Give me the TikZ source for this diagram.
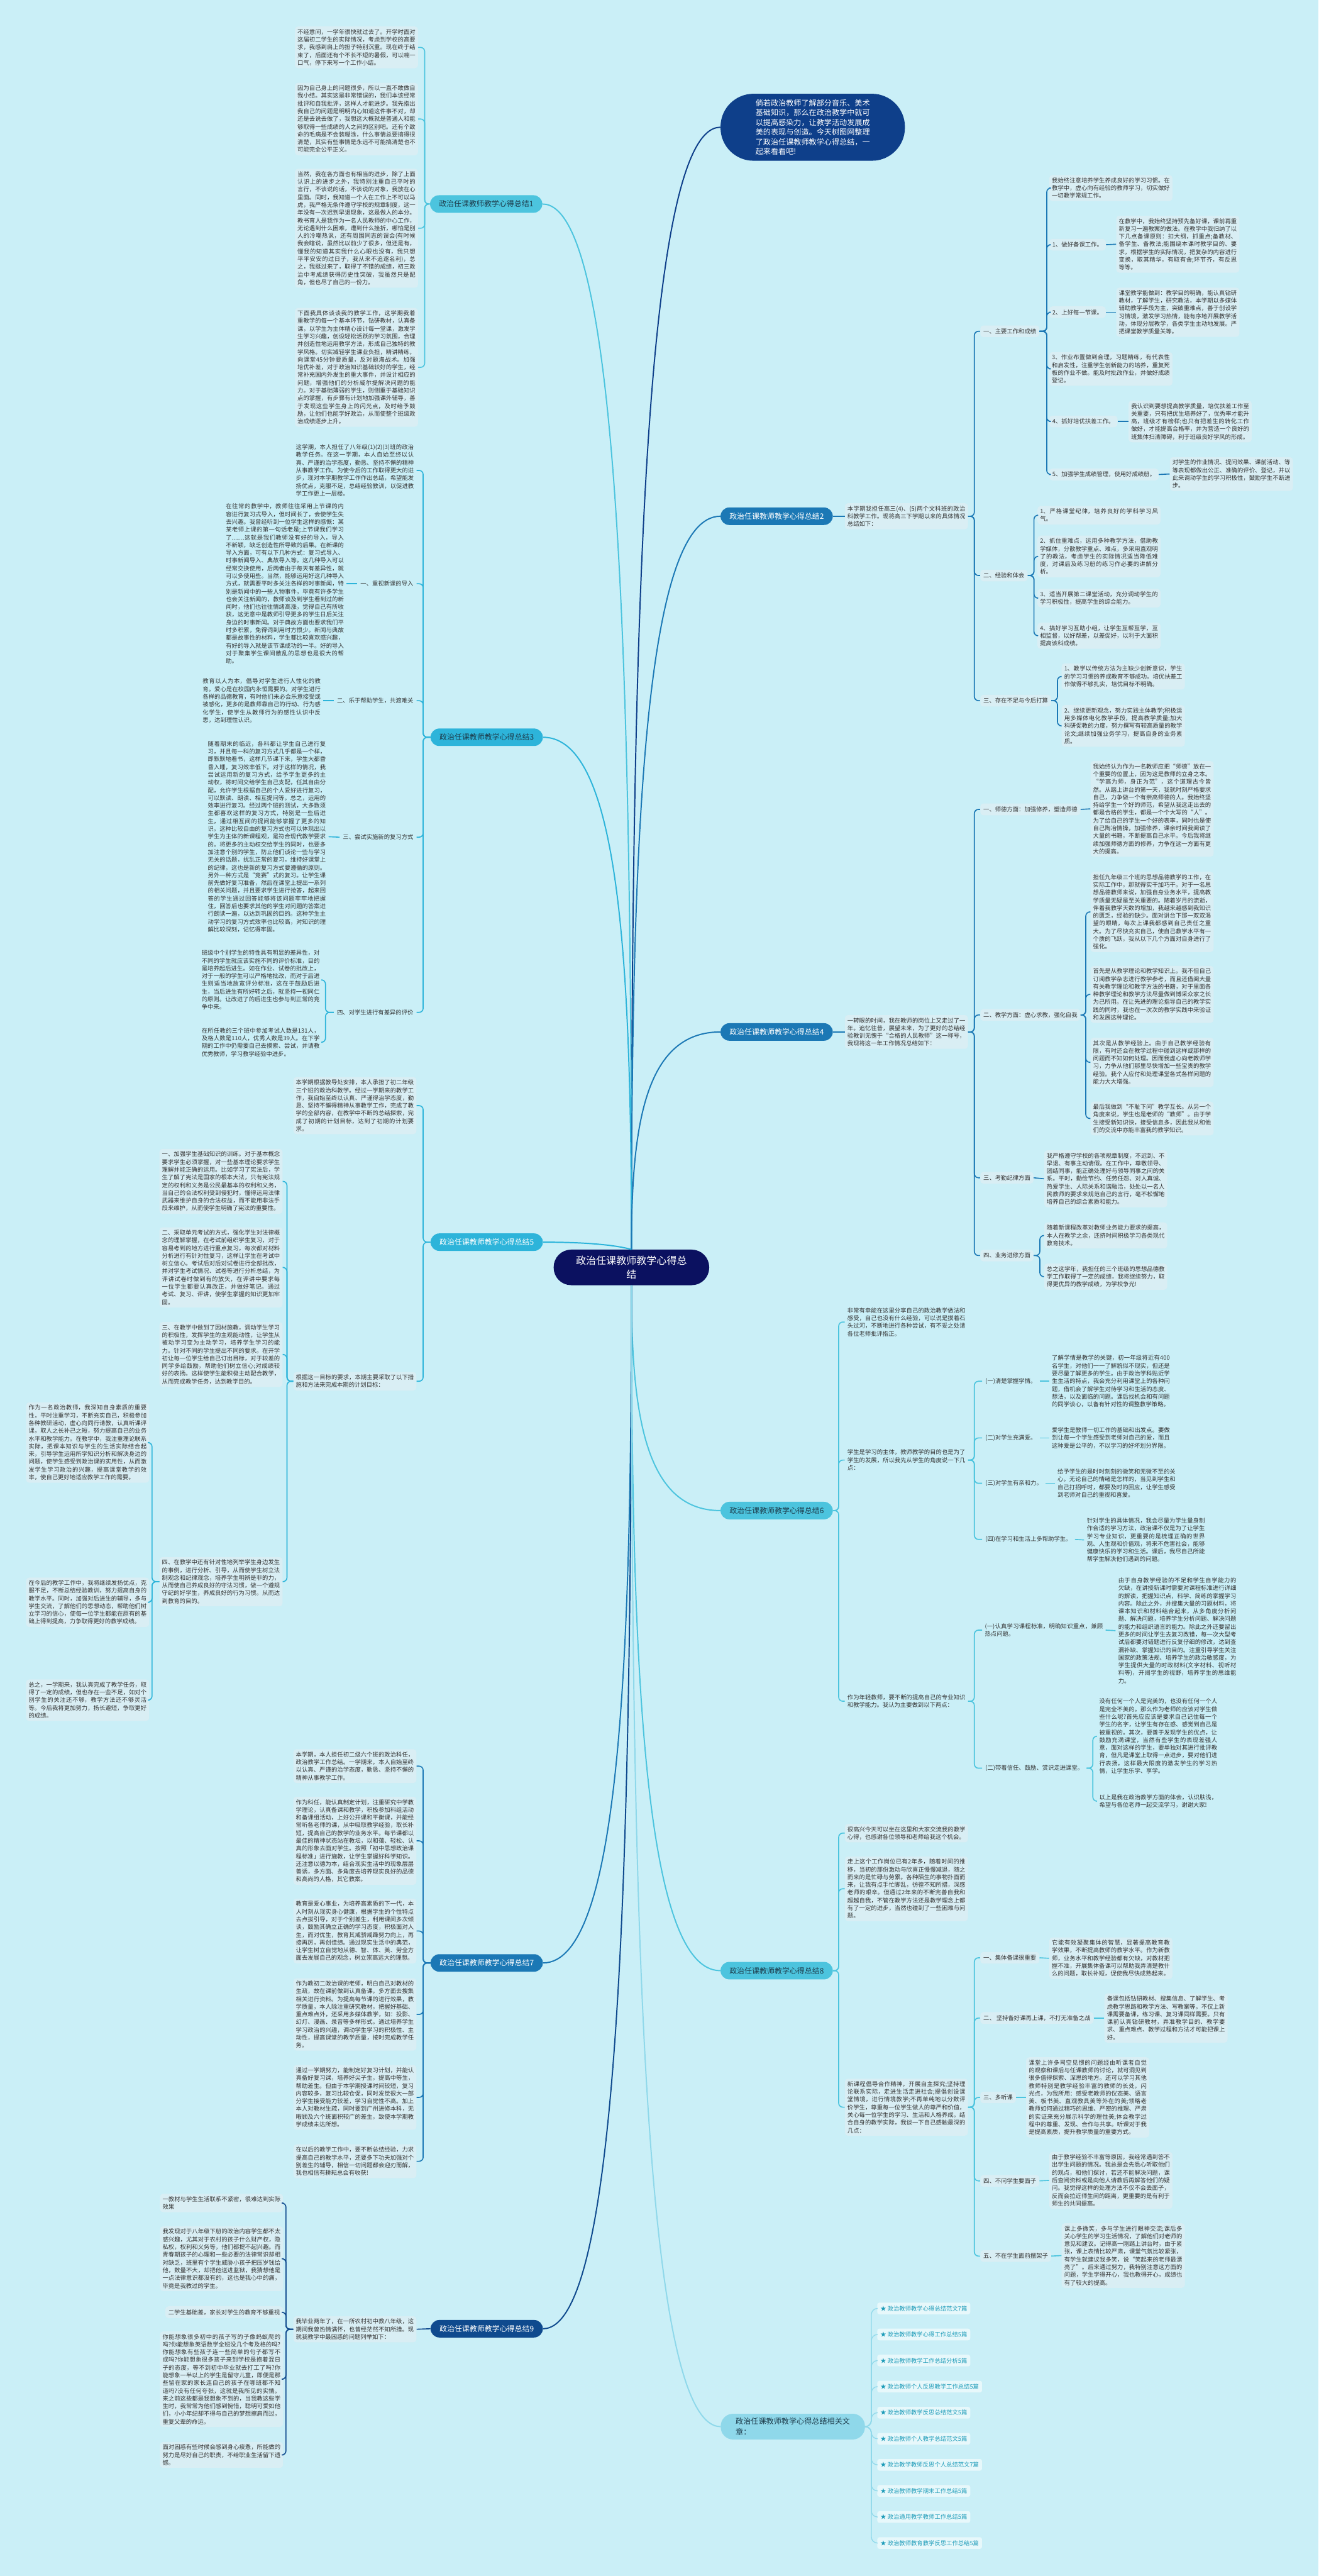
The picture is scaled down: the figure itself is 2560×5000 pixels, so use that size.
\documentclass[tikz,border=0pt]{standalone}
\usepackage{fontspec}
\setmainfont{Noto Sans CJK SC}
\XeTeXlinebreaklocale "zh"
\XeTeXlinebreakskip = 0pt plus 1pt

\definecolor{bg}{HTML}{CAEFF7}
\definecolor{leaf}{HTML}{D9EEF4}
\definecolor{ink}{HTML}{333333}
\definecolor{dk}{HTML}{1D3C4C}
\definecolor{navy}{HTML}{0B1160}
\definecolor{deep}{HTML}{0E3F8A}
\definecolor{bluA}{HTML}{1B78B5}
\definecolor{cyA}{HTML}{4CC4DE}
\definecolor{cyB}{HTML}{2DB4DA}
\definecolor{dkb}{HTML}{0F4A8E}
\definecolor{pale}{HTML}{8FD8EA}
\definecolor{teal}{HTML}{1E9CB9}

\begin{document}
\begin{tikzpicture}[x=0.5pt, y=-0.5pt,
  every node/.style={text=ink},
  leaf/.style={fill=leaf, rounded corners=3pt, text width=114.5pt, align=justify,
    inner xsep=2.5pt, inner ysep=2.5pt, font=\fontsize{5.7}{7.5}\selectfont},
  bare/.style={leaf, fill=none},
  lab/.style={fill=leaf, rounded corners=3pt, inner xsep=3pt, inner ysep=3pt,
    font=\fontsize{5.7}{7.5}\selectfont},
  barelab/.style={lab, fill=none},
  br/.style={rounded corners=8.5pt, minimum width=109pt, minimum height=17pt,
    inner sep=0pt, font=\fontsize{7.3}{9}\selectfont},
  relitem/.style={fill=white!55!bg, rounded corners=2pt, inner xsep=3pt, inner ysep=3pt,
    text=teal, font=\fontsize{5.7}{7.5}\selectfont},
  main/.style={line width=1.2pt},
  sub/.style={line width=1pt, rounded corners=4pt}]

\useasboundingbox (0,0) rectangle (2560,5000);
\fill[bg] (0,0) rectangle (2560,5000);

% centre and lead-in
\node[fill=navy, text=white, rounded corners=17pt, minimum width=151pt, minimum height=34.5pt,
  align=center, font=\fontsize{9.8}{13.5}\selectfont] (root) at (1226,2460)
  {政治任课教师教学心得总\\结};
\node[fill=deep, text=white, rounded corners=32pt, text width=111pt, align=left,
  inner xsep=34pt, inner ysep=4pt, minimum height=65pt, font=\fontsize{7.4}{9.5}\selectfont] (lead) at (1578,247)
  {倘若政治教师了解部分音乐、美术基础知识，那么在政治教学中就可以提高感染力，让教学活动发展成美的表现与创造。今天树图网整理了政治任课教师教学心得总结，一起来看看吧!};

% ---------------- branch 1
\node[br, fill=cyA, text=dk] (b1) at (944,396) {政治任课教师教学心得总结1};
\node[leaf, anchor=east] (b1a) at (812,92) {不经意间，一学年很快就过去了。开学时面对这届初二学生的实际情况，考虑到学校的高要求，我感到肩上的担子特别沉重。现在终于结束了，后面还有个不长不短的暑假，可以喘一口气，停下来写一个工作小结。};
\node[leaf, anchor=east] (b1b) at (812,231) {因为自己身上的问题很多，所以一直不敢做自我小结。其实这是非常错误的，我们本该经常批评和自我批评，这样人才能进步。我先指出我自己的问题是明明内心知道这件事不对，却还是去说去做了，我想这大概就是普通人和能够取得一些成绩的人之间的区别吧。还有个致命的毛病是不会装糊涂，什么事情总要搞得很清楚，其实有些事情是永远不可能搞清楚也不可能完全公平正义。};
\node[leaf, anchor=east] (b1c) at (812,443) {当然，我在各方面也有相当的进步，除了上面认识上的进步之外，我特别注重自己平时的言行，不该说的话，不该说的对象，我放在心里面。同时，我知道一个人在工作上不可以马虎，我严格无条件遵守学校的规章制度，这一年没有一次迟到早退现象，这是做人的本分。教书育人是我作为一名人民教师的中心工作，无论遇到什么困难，遭到什么挫折，哪怕是别人的冷嘲热讽，还有周围同志的误会(有时候我会瞎说，虽然比以前少了很多，但还是有，懂我的知道其实我什么心眼也没有，我只想平平安安的过日子，我从来不追逐名利)，总之，我挺过来了，取得了不错的成绩，初三政治中考成绩获得历史性突破，我虽然只是配角，但也尽了自己的一份力。};
\node[leaf, anchor=east] (b1d) at (812,713) {下面我具体谈谈我的教学工作，这学期我着重教学的每一个基本环节，钻研教材，认真备课，以学生为主体精心设计每一堂课，激发学生学习兴趣，创设轻松活跃的学习氛围，合理并创造性地运用教学方法，形成自己独特的教学风格。切实减轻学生课业负担，精讲精练，向课堂45分钟要质量，反对题海战术。加强培优补差，对于政治知识基础较好的学生，经常补充国内外发生的重大事件，并设计相应的问题，增强他们的分析威尔提解决问题的能力。对于基础薄弱的学生，则侧重于基础知识点的掌握，有步骤有计划地加强课外辅导，善于发现这些学生身上的闪光点，及时给予鼓励，让他们也能学好政治，从而使整个班级政治成绩逐步上升。};
\foreach \c in {b1a,b1b,b1c,b1d}
  \draw[sub, cyA] (b1.west) -- ++(-10,0) |- (\c.east);

% ---------------- branch 2
\node[br, fill=bluA, text=white] (b2) at (1508,1002) {政治任课教师教学心得总结2};
\node[leaf, anchor=west] (b2a) at (1640,1002) {本学期我担任高三(4)、(5)两个文科班的政治科教学工作。现将高三下学期以来的具体情况总结如下：};
\node[lab, anchor=west] (b2m1) at (1903,643) {一、主要工作和成绩};
\node[lab, anchor=west] (b2m2) at (1903,1117) {二、经验和体会};
\node[lab, anchor=west] (b2m3) at (1903,1360) {三、存在不足与今后打算};
\draw[sub, bluA] (b2.east) -- (b2a.west);
\foreach \c in {b2m1,b2m2,b2m3}
  \draw[sub, bluA] (b2a.east) -- ++(12,0) |- (\c.west);

\node[leaf, anchor=west] (b2m1a) at (2037,365) {我始终注意培养学生养成良好的学习习惯。在教学中，虚心向有经验的教师学习，切实做好一切教学常规工作。};
\node[lab, anchor=west] (b2m1b) at (2037,475) {1、做好备课工作。};
\node[lab, anchor=west] (b2m1c) at (2037,606) {2、上好每一节课。};
\node[leaf, anchor=west] (b2m1d) at (2037,716) {3、作业布置做到合理，习题精练，有代表性和启发性，注重学生创新能力的培养，重复死板的作业不做。能及时批改作业，并做好成绩登记。};
\node[lab, anchor=west] (b2m1e) at (2037,818) {4、抓好培优扶差工作。};
\node[lab, anchor=west] (b2m1f) at (2037,921) {5、加强学生成绩管理，使用好成绩册。};
\foreach \c in {b2m1a,b2m1b,b2m1c,b2m1d,b2m1e,b2m1f}
  \draw[sub, bluA] (b2m1.east) -- ++(14,0) |- (\c.west);
\node[leaf, anchor=west] (b2m1b1) at (2167,474) {在教学中，我始终坚持预先备好课，课前再重新复习一遍教案的做法。在教学中我归纳了以下几点备课原则：扣大纲，抓重点;备教材、备学生、备教法;能围绕本课时教学目的、要求，根据学生的实际情况，把复杂的内容进行变换，取其精华，有取有舍;环节齐，有反思等等。};
\node[leaf, anchor=west] (b2m1c1) at (2167,606) {课堂教学能做到：教学目的明确，能认真钻研教材，了解学生，研究教法，本学期以多媒体辅助教学手段为主，突破重难点，善于创设学习情境，激发学习热情，能有序地开展教学活动，体现分层教学，各类学生主动地发展。严把课堂教学质量关等。};
\node[leaf, anchor=west] (b2m1e1) at (2191,818) {我认识到要想提高教学质量，培优扶差工作至关重要，只有把优生培养好了，优秀率才能升高，班级才有榜样;也只有把差生的转化工作做好，才能提高合格率，并为营造一个良好的班集体扫清障碍，利于班级良好学风的形成。};
\node[leaf, anchor=west] (b2m1f1) at (2271,920) {对学生的作业情况、提问效果、课前活动、等等表现都做出公正、准确的评价、登记，并以此来调动学生的学习积极性，鼓励学生不断进步。};
\draw[sub, bluA] (b2m1b.east) -- (b2m1b1.west);
\draw[sub, bluA] (b2m1c.east) -- (b2m1c1.west);
\draw[sub, bluA] (b2m1e.east) -- (b2m1e1.west);
\draw[sub, bluA] (b2m1f.east) -- (b2m1f1.west);

\node[leaf, anchor=west] (b2m2a) at (2014,1000) {1、严格课堂纪律，培养良好的学科学习风气。};
\node[leaf, anchor=west] (b2m2b) at (2014,1080) {2、抓住重难点，运用多种教学方法，借助教学媒体，分散教学重点、难点，多采用直观明了的教法，考虑学生的实际情况适当降低难度，对课后及练习册的练习作必要的讲解分析。};
\node[leaf, anchor=west] (b2m2c) at (2014,1161) {3、适当开展第二课堂活动，充分调动学生的学习积极性，提高学生的综合能力。};
\node[leaf, anchor=west] (b2m2d) at (2014,1234) {4、搞好学习互助小组，让学生互帮互学，互相监督，以好帮差，以差促好，以利于大面积提高该科成绩。};
\foreach \c in {b2m2a,b2m2b,b2m2c,b2m2d}
  \draw[sub, bluA] (b2m2.east) -- ++(12,0) |- (\c.west);
\node[leaf, anchor=west] (b2m3a) at (2061,1313) {1、教学以传统方法为主缺少创新意识，学生的学习习惯的养成教育不够成功。培优扶差工作做得不够扎实，培优目标不明确。};
\node[leaf, anchor=west] (b2m3b) at (2061,1409) {2、继续更新观念，努力实践主体教学;积极运用多媒体电化教学手段，提高教学质量;加大科研促教的力度，努力撰写有较高质量的教学论文;继续加强业务学习，提高自身的业务素质。};
\foreach \c in {b2m3a,b2m3b}
  \draw[sub, bluA] (b2m3.east) -- ++(12,0) |- (\c.west);

% ---------------- branch 3
\node[br, fill=cyB, text=dk] (b3) at (945,1431) {政治任课教师教学心得总结3};
\node[bare, anchor=east] (b3a) at (809,913) {这学期，本人担任了八年级(1)(2)(3)班的政治教学任务。在这一学期，本人自始至终以认真、严谨的治学态度，勤恳、坚持不懈的精神从事教学工作。为使今后的工作取得更大的进步，现对本学期教学工作作出总结，希望能发扬优点，克服不足，总结经验教训，以促进教学工作更上一层楼。};
\node[barelab, anchor=east] (b3b) at (809,1133) {一、重视新课的导入};
\node[barelab, anchor=east] (b3c) at (809,1360) {二、乐于帮助学生，共渡难关};
\node[barelab, anchor=east] (b3d) at (809,1625) {三、尝试实施新的复习方式};
\node[barelab, anchor=east] (b3e) at (809,1965) {四、对学生进行有差异的评价};
\foreach \c in {b3a,b3b,b3c,b3d,b3e}
  \draw[sub, cyB] (b3.west) -- ++(-14,0) |- (\c.east);
\node[bare, anchor=east] (b3b1) at (673,1133) {在往常的教学中，教师往往采用上节课的内容进行复习式导入，但时间长了，会使学生失去兴趣。我曾经听到一位学生这样的感慨：某某老师上课的第一句话老是;上节课我们学习了……这就是我们教师没有好的导入，导入不新颖，缺乏创造性所导致的后果。在新课的导入方面，可有以下几种方式：复习式导入、时事新闻导入、典故导入等。这几种导入可以经常交换使用，后两者由于每天有差异性，就可以多使用些。当然，能够运用好这几种导入方式，就需要平时多关注各样的时事新闻，特别是新闻中的一些人物事件，毕竟有许多学生也会关注新闻的，教师谈及到学生看到过的新闻时，他们也往往情绪高涨，觉得自己有所收获，这无意中是教师引导更多的学生日后关注身边的时事新闻。对于典故方面也要求我们平时多积累，免得词到用时方恨少。新闻与典故都是故事性的材料，学生都比较喜欢感兴趣，有好的导入就是该节课成功的一半。好的导入对于聚集学生课间散乱的思想也是很大的帮助。};
\node[bare, anchor=east] (b3c1) at (628,1360) {教育以人为本，倡导对学生进行人性化的教育。爱心是在校园内永恒需要的。对学生进行各样的品德教育，有时他们未必会乐意接受或被感化，更多的是教师靠自己的行动、行为感化学生，使学生从教师行为的感性认识中反思，达到理性认识。};
\node[bare, anchor=east] (b3d1) at (638,1624) {随着期末的临近，各科都让学生自己进行复习，并且每一科的复习方式几乎都是一个样，即默默地看书，这样几节课下来，学生大都昏昏入睡，复习效率低下。对于这样的情况，我尝试运用新的复习方式，给予学生更多的主动权，将时间交给学生自己支配，任其自由分配，允许学生根据自己的个人爱好进行复习，可以默读、朗读、相互提问等。总之，运用的效率进行复习。经过两个班的测试，大多数须生都喜欢这样的复习方式，特别是一些后进生，通过相互间的提问能够掌握了更多的知识。这种比较自由的复习方式也可以体现出以学生为主体的新课程观，是符合现代教学要求的。将更多的主动权交给学生的同时，也要多加注意个别的学生，防止他们谈论一些与学习无关的话题，扰乱正常的复习，维持好课堂上的纪律，这也是新的复习方式要遵循的原则。另外一种方式是“竞赛”式的复习。让学生课前先做好复习准备，然后在课堂上提出一系列的相关问题，并且要求学生进行抢答，起来回答的学生通过回答能够将该问题牢牢地把握住，回答后也要求其他的学生对问题的答案进行朗读一遍，以达到巩固的目的。这种学生主动学习的复习方式效率也比较高，对知识的理解比较深刻，记忆得牢固。};
\draw[sub, cyB] (b3b.west) -- (b3b1.east);
\draw[sub, cyB] (b3c.west) -- (b3c1.east);
\draw[sub, cyB] (b3d.west) -- (b3d1.east);
\node[bare, anchor=east] (b3e1) at (626,1902) {班级中个别学生的特性具有明显的差异性，对不同的学生就应该实施不同的评价标准，目的是培养起后进生。如在作业、试卷的批改上，对于一般的学生可以严格地批改，而对于后进生则适当地放宽评分标准，这在于鼓励后进生，当后进生有所好转之后，就坚持一视同仁的原则。让改进了的后进生也参与到正常的竞争中来。};
\node[bare, anchor=east] (b3e2) at (626,2023) {在所任教的三个班中参加考试人数是131人，及格人数是110人，优秀人数是39人。在下学期的工作中仍需要自己去摸索、尝试，并请教优秀教师，学习教学经验中进步。};
\foreach \c in {b3e1,b3e2}
  \draw[sub, cyB] (b3e.west) -- ++(-16,0) |- (\c.east);

% ---------------- branch 4
\node[br, fill=bluA, text=white] (b4) at (1508,2003) {政治任课教师教学心得总结4};
\node[leaf, anchor=west] (b4a) at (1640,2003) {一转眼的时间，我在教师的岗位上又走过了一年。追忆往昔，展望未来，为了更好的总结经验教训无愧于“合格的人民教师”这一称号，我现将这一年工作情况总结如下：};
\draw[sub, bluA] (b4.east) -- (b4a.west);
\node[lab, anchor=west] (b4m1) at (1903,1571) {一、师德方面：加强修养，塑造师德};
\node[lab, anchor=west] (b4m2) at (1903,1970) {二、教学方面：虚心求教，强化自我};
\node[lab, anchor=west] (b4m3) at (1903,2286) {三、考勤纪律方面};
\node[lab, anchor=west] (b4m4) at (1903,2437) {四、业务进修方面};
\foreach \c in {b4m1,b4m2,b4m3,b4m4}
  \draw[sub, bluA] (b4a.east) -- ++(12,0) |- (\c.west);
\node[leaf, anchor=west] (b4m1a) at (2117,1570) {我始终认为作为一名教师应把“师德”放在一个重要的位置上，因为这是教师的立身之本。“学高为师，身正为范”，这个道理古今皆然。从踏上讲台的第一天，我就时刻严格要求自己，力争做一个有崇高师德的人。我始终坚持给学生一个好的师范，希望从我这走出去的都是合格的学生，都是一个个大写的“人”。为了给自己的学生一个好的表率，同时也是使自己陶冶情操，加强修养，课余时间我阅读了大量的书籍，不断提高自己水平。今后我将继续加强师德方面的修养，力争在这一方面有更大的提高。};
\draw[sub, bluA] (b4m1.east) -- (b4m1a.west);
\node[leaf, anchor=west] (b4m2a) at (2117,1770) {担任九年级三个班的思想品德教学的工作，在实际工作中，那就得实干加巧干。对于一名思想品德教师来说，加强自身业务水平，提高教学质量无疑是至关重要的。随着岁月的流逝，伴着我教学天数的增加，我越来越感到我知识的匮乏，经验的缺少。面对讲台下那一双双渴望的眼睛，每次上课我都感到自己责任之重大。为了尽快充实自己，使自己教学水平有一个质的飞跃，我从以下几个方面对自身进行了强化。};
\node[leaf, anchor=west] (b4m2b) at (2117,1930) {首先是从教学理论和教学知识上。我不但自己订阅教学杂志进行教学参考，而且还借阅大量有关教学理论和教学方法的书籍，对于里面各种教学理论和教学方法尽量做到博采众家之长为己所用。在让先进的理论指导自己的教学实践的同时，我也在一次次的教学实践中来验证和发展这种理论。};
\node[leaf, anchor=west] (b4m2c) at (2117,2062) {其次是从教学经验上。由于自己教学经验有限，有时还会在教学过程中碰到这样或那样的问题而不知如何处理。因而我虚心向老教师学习，力争从他们那里尽快增加一些宝贵的教学经验。我个人应付和处理课堂各式各样问题的能力大大增强。};
\node[leaf, anchor=west] (b4m2d) at (2117,2171) {最后我做到“不耻下问”教学互长。从另一个角度来说，学生也是老师的“教师”。由于学生接受新知识快，接受信息多，因此我从和他们的交流中亦能丰富我的教学知识。};
\foreach \c in {b4m2a,b4m2b,b4m2c,b4m2d}
  \draw[sub, bluA] (b4m2.east) -- ++(10,0) |- (\c.west);
\node[leaf, anchor=west] (b4m3a) at (2027,2288) {我严格遵守学校的各项规章制度，不迟到、不早退、有事主动请假。在工作中，尊敬领导、团结同事，能正确处理好与领导同事之间的关系。平时，勤俭节约、任劳任怨、对人真诚、热爱学生、人际关系和谐融洽，处处以一名人民教师的要求来规范自己的言行，毫不松懈地培养自己的综合素质和能力。};
\draw[sub, bluA] (b4m3.east) -- (b4m3a.west);
\node[leaf, anchor=west] (b4m4a) at (2027,2398) {随着新课程改革对教师业务能力要求的提高，本人在教学之余，还挤时间积极学习各类现代教育技术。};
\node[leaf, anchor=west] (b4m4b) at (2027,2478) {总之这学年，我担任的三个班级的思想品德教学工作取得了一定的成绩，我将继续努力，取得更优异的教学成绩，为学校争光!};
\foreach \c in {b4m4a,b4m4b}
  \draw[sub, bluA] (b4m4.east) -- ++(12,0) |- (\c.west);

% ---------------- branch 5
\node[br, fill=cyB, text=white] (b5) at (945,2411) {政治任课教师教学心得总结5};
\node[leaf, anchor=east] (b5a) at (809,2146) {本学期根据教导处安排，本人承担了初二年级三个班的政治科教学。经过一学期来的教学工作，我自始至终以认真、严谨得治学态度，勤恳、坚持不懈得精神从事教学工作，完成了教学的全部内容，在教学中不断的总结探索，完成了初期的计划目标，达到了初期的计划要求。};
\node[leaf, anchor=east] (b5b) at (809,2681) {根据这一目标的要求，本期主要采取了以下措施和方法来完成本期的计划目标：};
\foreach \c in {b5a,b5b}
  \draw[sub, cyB] (b5.west) -- ++(-14,0) |- (\c.east);
\node[leaf, anchor=east] (b5b1) at (549,2293) {一、加强学生基础知识的训练。对于基本概念要求学生必须掌握，对一些基本理论要求学生理解并能正确的运用。比如学习了宪法后，学生了解了宪法是国家的根本大法，只有宪法规定的权利和义务是公民最基本的权利和义务，当自己的合法权利受到侵犯时，懂得运用法律武器来维护自身的合法权益，而不能用非法手段来维护，从而使学生明确了宪法的重要性。};
\node[leaf, anchor=east] (b5b2) at (549,2460) {二、采取单元考试的方式，强化学生对法律概念的理解掌握，在考试前组织学生复习，对于容易考到的地方进行重点复习，每次都对材料分析进行有针对性复习，这样让学生在考试中树立信心。考试后对后对试卷进行全部批改，并对学生考试情况、试卷等进行分析总结，为评讲试卷时做到有的放矢，在评讲中要求每一位学生都要认真改正，并做好笔记。通过考试、复习、评讲，使学生掌握的知识更加牢固。};
\node[leaf, anchor=east] (b5b3) at (549,2629) {三、在教学中做到了因材施教，调动学生学习的积极性，发挥学生的主观能动性，让学生从被动学习变为主动学习，培养学生学习的能力。针对不同的学生提出不同的要求。在开学初让每一位学生给自己订出目标，对于较差的同学多给鼓励，帮助他们树立信心;对成绩较好的表扬。这样使学生能积极主动配合教学，从而完成教学任务，达到教学目的。};
\node[leaf, anchor=east] (b5b4) at (549,3070) {四、在教学中还有针对性地列举学生身边发生的事例，进行分析、引导，从而使学生树立法制观念和纪律观念，培养学生明辨是非的力，从而使自己养成良好的守法习惯，做一个遵规守纪的好学生，养成良好的行为习惯。从而达到教育的目的。};
\foreach \c in {b5b1,b5b2,b5b3,b5b4}
  \draw[sub, cyB] (b5b.west) -- ++(-12,0) |- (\c.east);
\node[leaf, anchor=east] (b5c1) at (290,2800) {作为一名政治教师，我深知自身素质的重要性，平时注重学习，不断充实自己，积极参加各种教研活动，虚心向同行请教，认真听课评课，取人之长补己之短，努力提高自己的业务水平和教学能力。在教学中，我注重理论联系实际，把课本知识与学生的生活实际结合起来，引导学生运用所学知识分析和解决身边的问题，使学生感受到政治课的实用性，从而激发学生学习政治的兴趣，提高课堂教学的效率，使自己更好地适应教学工作的需要。};
\node[leaf, anchor=east] (b5c2) at (290,3110) {在今后的教学工作中，我将继续发扬优点，克服不足，不断总结经验教训，努力提高自身的教学水平。同时，加强对后进生的辅导，多与学生交流，了解他们的思想动态，帮助他们树立学习的信心，使每一位学生都能在原有的基础上得到提高，力争取得更好的教学成绩。};
\node[leaf, anchor=east] (b5c3) at (290,3300) {总之，一学期来，我认真完成了教学任务，取得了一定的成绩，但也存在一些不足，如对个别学生的关注还不够，教学方法还不够灵活等。今后我将更加努力，扬长避短，争取更好的成绩。};
\foreach \c in {b5c1,b5c2,b5c3}
  \draw[sub, cyB] (b5b4.west) -- ++(-14,0) |- (\c.east);

% ---------------- branch 6
\node[br, fill=cyA, text=dk] (b6) at (1508,2932) {政治任课教师教学心得总结6};
\node[bare, anchor=west] (b6a) at (1640,2566) {非常有幸能在这里分享自己的政治教学做法和感受，自己也没有什么经验，可以说是摸着石头过河，不断地进行各种尝试，有不妥之处请各位老师批评指正。};
\node[bare, anchor=west] (b6b) at (1640,2834) {学生是学习的主体，教师教学的目的也是为了学生的发展，所以我先从学生的角度说一下几点：};
\node[bare, anchor=west] (b6c) at (1640,3302) {作为年轻教师，要不断的提高自己的专业知识和教学能力。我认为主要做到以下两点：};
\foreach \c in {b6a,b6b,b6c}
  \draw[sub, cyA] (b6.east) -- ++(11,0) |- (\c.west);
\node[barelab, anchor=west] (b6b1) at (1907,2681) {(一)清楚掌握学情。};
\node[barelab, anchor=west] (b6b2) at (1907,2791) {(二)对学生充满爱。};
\node[barelab, anchor=west] (b6b3) at (1907,2879) {(三)对学生有亲和力。};
\node[barelab, anchor=west] (b6b4) at (1907,2988) {(四)在学习和生活上多帮助学生。};
\foreach \c in {b6b1,b6b2,b6b3,b6b4}
  \draw[sub, cyA] (b6b.east) -- ++(12,0) |- (\c.west);
\node[bare, anchor=west] (b6b1a) at (2037,2681) {了解学情是教学的关键，初一年级将近有400名学生，对他们一一了解貌似不现实，但还是要尽量了解更多的学生。由于政治学科贴近学生生活的特点，我会充分利用课堂上的各种问题，借机会了解学生对待学习和生活的态度、想法，以及面临的问题。课后找机会和有问题的同学谈心，以备有针对性的调整教学策略。};
\node[bare, anchor=west] (b6b2a) at (2037,2791) {爱学生是教师一切工作的基础和出发点。要做到让每一个学生感受到老师对自己的爱，而且这种爱是公平的，不以学习的好坏划分界限。};
\node[bare, anchor=west] (b6b3a) at (2048,2879) {给予学生的是时时刻刻的微笑和无微不至的关心。无论自己的情绪是怎样的，当见到学生和自己打招呼时，都要及时的回应，让学生感受到老师对自己的重视和喜爱。};
\node[bare, anchor=west] (b6b4a) at (2105,2989) {针对学生的具体情况，我会尽量为学生量身制作合适的学习方法，政治课不仅是为了让学生学习专业知识，更重要的是梳理正确的世界观、人生观和价值观，将来不危害社会，能够健康快乐的学习和生活。课后，我尽自己所能帮学生解决他们遇到的问题。};
\draw[sub, cyA] (b6b1.east) -- (b6b1a.west);
\draw[sub, cyA] (b6b2.east) -- (b6b2a.west);
\draw[sub, cyA] (b6b3.east) -- (b6b3a.west);
\draw[sub, cyA] (b6b4.east) -- (b6b4a.west);
\node[bare, anchor=west] (b6c1) at (1907,3164) {(一)认真学习课程标准，明确知识重点，兼顾热点问题。};
\node[barelab, anchor=west] (b6c2) at (1907,3432) {(二)带着信任、鼓励、赏识走进课堂。};
\foreach \c in {b6c1,b6c2}
  \draw[sub, cyA] (b6c.east) -- ++(12,0) |- (\c.west);
\node[bare, anchor=west] (b6c1a) at (2166,3165) {由于自身教学经验的不足和学生自学能力的欠缺，在讲授新课时需要对课程标准进行详细的解读，把握知识点，科学、简练的掌握学习内容。除此之外，并搜集大量的习题材料，将课本知识和材料结合起来，从多角度分析问题、解决问题，培养学生分析问题、解决问题的能力和组织语言的能力。除此之外还要留出更多的时间让学生去复习改错，每一次大型考试后都要对错题进行反复仔细的修改，达到查漏补缺、掌握知识的目的。注重引导学生关注国家的政策法规、培养学生的政治敏感度，为学生提供大量的时政材料(文字材料、视听材料等)，开阔学生的视野，培养学生的思维能力。};
\draw[sub, cyA] (b6c1.east) -- (b6c1a.west);
\node[bare, anchor=west] (b6c2a) at (2129,3370) {没有任何一个人是完美的，也没有任何一个人是完全不美的。那么作为老师的应该对学生做些什么呢?首先应应该是要求自己记住每一个学生的名字，让学生有存在感、感觉到自己是被重视的。其次，要善于发现学生的优点，让鼓励充满课堂，当然有些学生的表现差强人意，面对这样的学生，要单独对其进行批评教育，但凡是课堂上取得一点进步，要对他们进行表扬，这样最大限度的激发学生的学习热情，让学生乐学、享学。};
\node[bare, anchor=west] (b6c2b) at (2129,3496) {以上是我在政治教学方面的体会，认识肤浅，希望与各位老师一起交流学习，谢谢大家!};
\foreach \c in {b6c2a,b6c2b}
  \draw[sub, cyA] (b6c2.east) -- ++(12,0) |- (\c.west);

% ---------------- branch 7
\node[br, fill=bluA, text=white] (b7) at (945,3810) {政治任课教师教学心得总结7};
\node[leaf, anchor=east] (b7a) at (809,3428) {本学期，本人担任初二级六个班的政治科任，政治教学工作总结。一学期来，本人自始至终以认真、严谨的治学态度，勤恳、坚持不懈的精神从事教学工作。};
\node[leaf, anchor=east] (b7b) at (809,3573) {作为科任，能认真制定计划，注重研究中学教学理论，认真备课和教学，积极参加科组活动和备课组活动，上好公开课和平衡课，并能经常听各老师的课，从中吸取教学经验，取长补短，提高自己的教学的业务水平。每节课都以最佳的精神状态站在教坛，以和蔼、轻松、认真的形象去面对学生。按照「初中思想政治课程标准」进行施教，让学生掌握好科学知识。还注意以德为本，结合现实生活中的现象层层善诱，多方面、多角度去培养现实良好的品德和高尚的人格，其它教案。};
\node[leaf, anchor=east] (b7c) at (809,3748) {教育是爱心事业，为培养高素质的下一代，本人时刻从现实身心健康，根据学生的个性特点去点拔引导，对于个别差生，利用课间多次倾谈，鼓励其确立正确的学习态度，积极面对人生，而对优生，教育其戒骄戒躁努力向上，再接再厉，再创佳绩。通过现实生活中的典范，让学生树立自觉地从德、智、体、美、劳全方面去发展自己的观念，树立崇高远大的理想。};
\node[leaf, anchor=east] (b7d) at (809,3910) {作为教初二政治课的老师，明白自己对教材的生疏，故在课前做到认真备课，多方面去搜集相关进行资料。为提高每节课的进行效果，教学质量，本人除注重研究教材，把握好基础、重点难点外，还采用多媒体教学，如：投影、幻灯、漫画、录音等多样形式。通过培养学生学习政治的兴趣，调动学生学习的积极性、主动性，提高课堂的教学质量，按时完成教学任务。};
\node[leaf, anchor=east] (b7e) at (809,4071) {通过一学期努力，能制定好复习计划，并能认真备好复习课，培养好尖子生，提高中等生，帮助差生。但由于本学期授课时间较短，复习内容较多，复习比较仓促，同时发觉很大一部分学生接受能力较差，学习自觉性不高。加上本人对教材生疏，同时要到广州进修本科，无暇顾及六个班面积较广的差生，致使本学期教学成绩未达所想。};
\node[leaf, anchor=east] (b7f) at (809,4195) {在以后的教学工作中，要不断总结经验，力求提高自己的教学水平，还要多下功夫加强对个别差生的辅导，相信一切问题都会迎刃而解，我也相信有耕耘总会有收获!};
\foreach \c in {b7a,b7b,b7c,b7d,b7e,b7f}
  \draw[sub, bluA] (b7.west) -- ++(-14,0) |- (\c.east);

% ---------------- branch 8
\node[br, fill=cyA, text=dk] (b8) at (1508,3825) {政治任课教师教学心得总结8};
\node[leaf, anchor=west] (b8a) at (1640,3558) {很高兴今天可以坐在这里和大家交流我的教学心得，也感谢各位领导和老师给我这个机会。};
\node[leaf, anchor=west] (b8b) at (1640,3666) {走上这个工作岗位已有2年多，随着时间的推移，当初的那份激动与欣喜正慢慢减退，随之而来的是忙碌与劳累。各种陌生的事物扑面而来，让我有点手忙脚乱，彷徨不知所措，深感老师的艰辛。但通过2年来的不断完善自我和超越自我，不管在教学方法还是教学理念上都有了一定的进步，当然也碰到了一些困难与问题。};
\node[leaf, anchor=west] (b8c) at (1640,4090) {新课程倡导合作精神，开展自主探究;坚持理论联系实际，走进生活走进社会;提倡创设课堂情境，进行情境教学;不再单纯地以分数评价学生，尊重每一位学生做人的尊严和价值，关心每一位学生的学习、生活和人格养成。结合自身的教学实际，我谈一下自己感触最深的几点：};
\foreach \c in {b8a,b8b,b8c}
  \draw[sub, cyA] (b8.east) -- ++(11,0) |- (\c.west);
\node[lab, anchor=west] (b8c1) at (1903,3800) {一、集体备课很重要};
\node[lab, anchor=west] (b8c2) at (1903,3917) {二、 坚持备好课再上课，不打无准备之战};
\node[lab, anchor=west] (b8c3) at (1903,4071) {三、多听课};
\node[lab, anchor=west] (b8c4) at (1903,4233) {四、不问学生要面子};
\node[lab, anchor=west] (b8c5) at (1903,4379) {五、不在学生面前摆架子};
\foreach \c in {b8c1,b8c2,b8c3,b8c4,b8c5}
  \draw[sub, cyA] (b8c.east) -- ++(12,0) |- (\c.west);
\node[leaf, anchor=west] (b8c1a) at (2037,3801) {它能有效凝聚集体的智慧，显著提高教育教学效果，不断提高教师的教学水平。作为新教师，业务水平和教学经验都有欠缺，对教材把握不准，开展集体备课可以帮助我弄清楚教什么的问题，取长补短，促使我尽快成熟起来。};
\node[leaf, anchor=west] (b8c2a) at (2144,3917) {备课包括钻研教材、搜集信息、了解学生、考虑教学思路和教学方法、写教案等。不仅上新课需要备课，练习课、复习课同样需要。只有课前认真钻研教材，弄准教学目的、教学要求、重点难点、教学过程和方法才可能把课上好。};
\node[leaf, anchor=west] (b8c3a) at (1992,4071) {课堂上许多司空见惯的问题经由听课者自觉的观察和课后与任课教师的讨论，就可洞见到很多值得探索、深思的地方。还可以学习其他教师特别是教学经验丰富的教师的长处，闪光点，为我所用：感受老教师的仪态美、语言美、板书美、直观教具美等外在的美;领略老教师如何通过精巧的思维、严密的推理、严肃的实证来充分展示科学的理性美;体会教学过程中的尊重、发现、合作与共享。听课对于我是提高素质，提升教学质量的重要方式。};
\node[leaf, anchor=west] (b8c4a) at (2037,4232) {由于教学经验不丰富等原因，我经常遇到答不出学生问题的情况。我总是会先悉心听取他们的观点，和他们探讨，若还不能解决问题，课后查阅资料或是向他人请教后再解答他们的疑问。我觉得这样的处理方法不仅不会丢面子，反而会拉近师生间的距离，更重要的是有利于师生的共同提高。};
\node[leaf, anchor=west] (b8c5a) at (2061,4378) {课上多微笑，多与学生进行眼神交流;课后多关心学生的学习生活情况，了解他们对老师的意见和建议。记得高一刚踏上讲台时，由于紧张，课上表情比较严肃，课堂气氛比较紧张，有学生就建议我多笑，说“笑起来的老师最漂亮了”。后来通过努力，我特别注意这方面的问题，学生学得开心，我也教得开心，成绩也有了较大的提高。};
\draw[sub, cyA] (b8c1.east) -- (b8c1a.west);
\draw[sub, cyA] (b8c2.east) -- (b8c2a.west);
\draw[sub, cyA] (b8c3.east) -- (b8c3a.west);
\draw[sub, cyA] (b8c4.east) -- (b8c4a.west);
\draw[sub, cyA] (b8c5.east) -- (b8c5a.west);

% ---------------- branch 9
\node[br, fill=dkb, text=white] (b9) at (945,4520) {政治任课教师教学心得总结9};
\node[leaf, anchor=east] (b9a) at (809,4521) {我毕业两年了，在一所农村初中教八年级，这期间我曾热情满怀，也曾经茫然不知所措。现就我教学中最困惑的问题列举如下：};
\draw[sub, dkb] (b9.west) -- (b9a.east);
\node[leaf, anchor=east] (b9a1) at (550,4276) {一教材与学生生活联系不紧密，很难达到实际效果};
\node[leaf, anchor=east] (b9a2) at (550,4384) {我发现对于八年级下册的政治内容学生都不太感兴趣，尤其对于农村的孩子什么财产权，隐私权，权利和义务等，他们都提不起兴趣。而青春期孩子的心理和一些必要的法律常识却相对缺乏，班里有个学生威胁小孩子把压岁钱给他，数量不大，却把他送进监狱，我猜想他是一点法律意识都没有的，这也是我心中的痛，毕竟是我教过的学生。};
\node[lab, anchor=east] (b9a3) at (550,4488) {二学生基础差，家长对学生的教育不够重视};
\node[leaf, anchor=east] (b9a4) at (550,4618) {你能想象很多初中的孩子写的子像蚂蚁爬的吗?你能想象英语数学全班没几个考及格的吗?你能想象有些孩子连一些简单的句子都写不成吗?你能想象很多孩子来到学校是抱着混日子的态度，等不到初中毕业就去打工了吗?你能想象一半以上的学生是留守儿童，即便是那些留在家的家长连自己的孩子在哪班都不知道吗?没有任何夸张，这就是我所见的实情。来之前这些都是我想象不到的，当我教这些学生时，我常常为他们感到惋惜，聪明可爱如他们，小小年纪却不得与自己的梦想擦肩而过，重复父辈的命运。};
\node[leaf, anchor=east] (b9a5) at (550,4765) {面对困惑有些时候会感到身心疲惫，所能做的努力是尽好自己的职责，不给职业生活留下遗憾。};
\foreach \c in {b9a1,b9a2,b9a3,b9a4,b9a5}
  \draw[sub, dkb] (b9a.west) -- ++(-14,0) |- (\c.east);

% ---------------- related
\node[fill=pale, text=dk, rounded corners=12pt, anchor=west, minimum width=140pt, minimum height=25pt,
  text width=111pt, align=left, inner xsep=14pt, font=\fontsize{7.4}{10}\selectfont] (rel) at (1399,4710)
  {政治任课教师教学心得总结相关文章：};
\foreach \t [count=\i] in {政治教师教学心得总结范文7篇, 政治教师教学心得工作总结5篇,
    政治教师教学工作总结分析5篇, 政治教师个人反思教学工作总结5篇, 政治教师教学反思总结范文5篇,
    政治教师个人教学总结范文5篇, 政治教学教师反思个人总结范文7篇, 政治教师教学期末工作总结5篇,
    政治通用教学教师工作总结5篇, 政治教师教育教学反思工作总结5篇}{
  \node[relitem, anchor=west] (r\i) at (1703,4430+50.6*\i) {★ \t};
  \draw[line width=0.8pt, pale, rounded corners=6pt] (rel.east) -- ++(12,0) |- (r\i.west);
}

% ---------------- main connectors
\draw[main, deep] (root.north) .. controls (1226,1228) and (1250,247) .. (lead.west);
\draw[main, cyA] (root.north) .. controls (1226,1310) and (1203,396) .. (b1.east);
\draw[main, bluA] (root.north) .. controls (1226,1643) and (1249,1002) .. (b2.west);
\draw[main, cyB] (root.north) .. controls (1226,1879) and (1204,1431) .. (b3.east);
\draw[main, bluA] (root.north) .. controls (1226,2193) and (1249,2003) .. (b4.west);
\draw[main, cyB] (b5.east) .. controls (1150,2411) and (1200,2418) .. (root.north);
\draw[main, cyA] (root.south) .. controls (1226,2735) and (1249,2932) .. (b6.west);
\draw[main, bluA] (root.south) .. controls (1226,3218) and (1204,3810) .. (b7.east);
\draw[main, cyA] (root.south) .. controls (1226,3226) and (1249,3825) .. (b8.west);
\draw[main, dkb] (root.south) .. controls (1226,3608) and (1204,4520) .. (b9.east);
\draw[main, pale] (root.south) .. controls (1226,3713) and (1249,4710) .. (rel.west);
\end{tikzpicture}
\end{document}
